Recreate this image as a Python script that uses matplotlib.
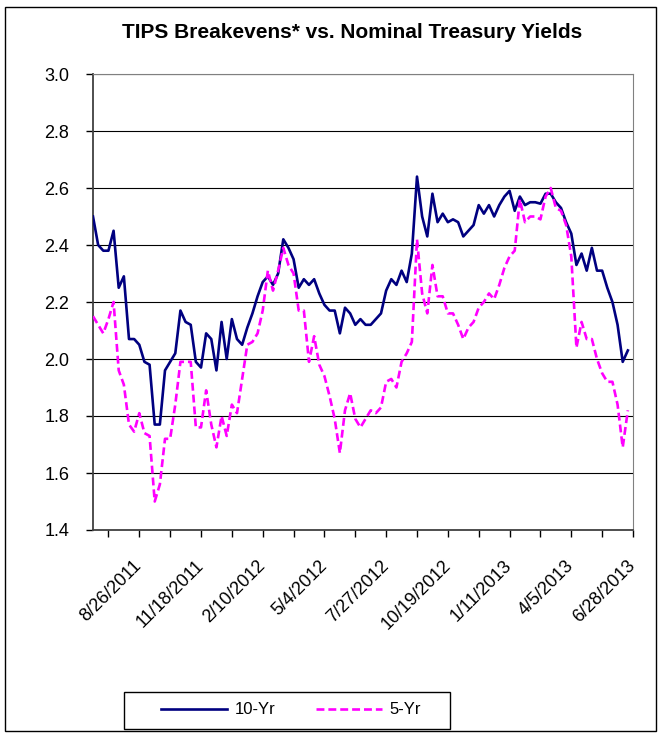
import numpy as np
import pandas as pd
import matplotlib
matplotlib.use("Agg")
import matplotlib.pyplot as plt
from matplotlib.patches import Rectangle
from matplotlib.ticker import FormatStrFormatter

plt.rcParams['font.family'] = ['Liberation Sans', 'DejaVu Sans']

dates = pd.date_range('2011-06-24', periods=105, freq='7D')

ten_yr = [2.50, 2.40, 2.38, 2.38, 2.45, 2.25, 2.29, 2.07, 2.07, 2.05,
          1.99, 1.98, 1.77, 1.77, 1.96, 1.99, 2.02, 2.17, 2.13, 2.12,
          1.99, 1.97, 2.09, 2.07, 1.96, 2.13, 2.00, 2.14, 2.07, 2.05,
          2.11, 2.16, 2.22, 2.27, 2.29, 2.26, 2.30, 2.42, 2.39, 2.35,
          2.25, 2.28, 2.26, 2.28, 2.23, 2.19, 2.17, 2.17, 2.09, 2.18,
          2.16, 2.12, 2.14, 2.12, 2.12, 2.14, 2.16, 2.24, 2.28, 2.26,
          2.31, 2.27, 2.37, 2.64, 2.50, 2.43, 2.58, 2.48, 2.51, 2.48,
          2.49, 2.48, 2.43, 2.45, 2.47, 2.54, 2.51, 2.54, 2.50, 2.54,
          2.57, 2.59, 2.52, 2.57, 2.54, 2.55, 2.55, 2.545, 2.58, 2.58,
          2.55, 2.53, 2.48, 2.44, 2.33, 2.37, 2.31, 2.39, 2.31, 2.31,
          2.25, 2.20, 2.12, 1.99, 2.03]

five_yr = [2.15, 2.12, 2.09, 2.14, 2.20, 1.96, 1.91, 1.77, 1.745, 1.81,
           1.74, 1.73, 1.50, 1.56, 1.72, 1.72, 1.84, 1.99, 1.99, 1.99,
           1.76, 1.76, 1.89, 1.77, 1.69, 1.80, 1.73, 1.84, 1.81, 1.93,
           2.05, 2.06, 2.09, 2.17, 2.31, 2.24, 2.31, 2.39, 2.33, 2.30,
           2.17, 2.17, 1.99, 2.08, 1.98, 1.94, 1.87, 1.79, 1.67, 1.82,
           1.88, 1.79, 1.76, 1.79, 1.82, 1.81, 1.83, 1.92, 1.93, 1.90,
           1.99, 2.02, 2.06, 2.42, 2.23, 2.16, 2.33, 2.22, 2.22, 2.16,
           2.16, 2.12, 2.07, 2.11, 2.13, 2.18, 2.20, 2.23, 2.21, 2.26,
           2.32, 2.36, 2.38, 2.56, 2.48, 2.50, 2.50, 2.49, 2.57, 2.60,
           2.53, 2.52, 2.47, 2.36, 2.04, 2.13, 2.07, 2.07, 2.00, 1.95,
           1.92, 1.92, 1.84, 1.69, 1.82]

tick_dates = pd.date_range('2011-07-15', '2013-06-28', freq='42D')
tick_labels = ['', '8/26/2011', '', '11/18/2011', '', '2/10/2012', '', '5/4/2012',
               '', '7/27/2012', '', '10/19/2012', '', '1/11/2013', '', '4/5/2013',
               '', '6/28/2013']

fig = plt.figure(figsize=(6.61, 7.33), dpi=100)
ax = fig.add_axes([93/661, 1 - 530/733, 540/661, 456/733])

ax.plot(dates, ten_yr, color='#000080', lw=1.9, label='10-Yr', zorder=3)
ax.plot(dates, five_yr, color='#FF00FF', lw=1.9, ls=(0, (3, 1.5)), label='5-Yr', zorder=3)

ax.set_ylim(1.4, 3.0)
ax.set_yticks(np.arange(1.4, 3.01, 0.2))
ax.yaxis.set_major_formatter(FormatStrFormatter('%.1f'))
ax.set_xlim(dates[0], pd.Timestamp('2013-06-28'))
ax.set_xticks(tick_dates)
ax.set_xticklabels(tick_labels, rotation=45, ha='right', va='center',
                   rotation_mode='anchor')

ax.tick_params(axis='both', direction='out', length=5, width=1)
ax.tick_params(axis='x', pad=19, labelsize=13)
ax.tick_params(axis='y', pad=12, labelsize=13)
ax.yaxis.grid(True, color='black', lw=0.8)
ax.set_axisbelow(True)

for s in ['top', 'right']:
    ax.spines[s].set_color('#808080')
for s in ['left', 'bottom']:
    ax.spines[s].set_color('#404040')
    ax.spines[s].set_linewidth(1.3)

fig.text(352/661, 1 - 32/733, 'TIPS Breakevens* vs. Nominal Treasury Yields',
         ha='center', va='center', fontsize=15, weight='bold')

# legend entries, framed by a separate box as in the original
fig.legend(loc='center', bbox_to_anchor=(291/661, 1 - 710/733), ncol=2,
           frameon=False, fontsize=12, handlelength=4.0, handletextpad=0.45,
           columnspacing=2.4)
fig.patches.append(Rectangle((124/661, 1 - 729/733), 326/661, 37/733,
                             transform=fig.transFigure, fill=False,
                             edgecolor='black', lw=1))

fig.patches.append(Rectangle((5/661, 1 - 731/733), 651/661, 724/733,
                             transform=fig.transFigure, fill=False,
                             edgecolor='black', lw=1))

fig.savefig('out.png', dpi=100)
